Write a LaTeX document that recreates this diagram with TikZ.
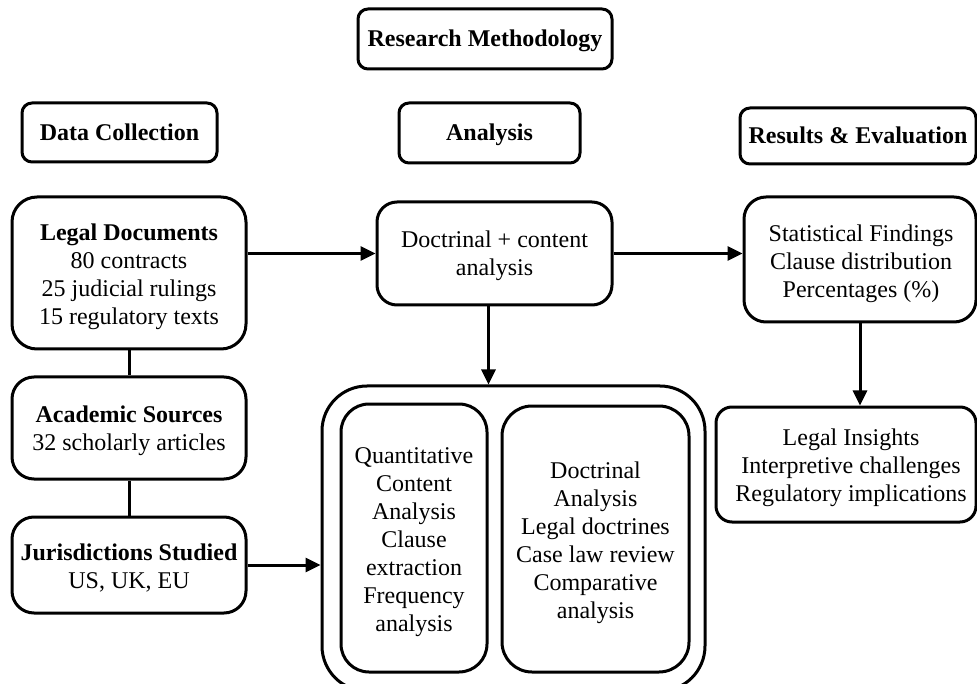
\documentclass[tikz,border=0pt]{standalone}
\usepackage{fontspec}
\setmainfont{Liberation Serif}
\usetikzlibrary{arrows.meta}
\newcommand\fsz{\fontsize{24}{28}\selectfont}
\tikzset{
  box/.style={draw, line width=3pt, inner sep=0pt},
  hdr/.style={box, align=center, font=\fsz\bfseries, text height=16pt, text depth=0pt},
  txt/.style={inner sep=0pt, align=center, font=\fsz},
  arr/.style={line width=3pt, -{Triangle[length=15pt,width=14pt]}},
  con/.style={line width=3pt}
}
\begin{document}
\begin{tikzpicture}[x=1pt,y=-1pt]
\path[use as bounding box] (0,0) rectangle (977,684);
\clip (0,0) rectangle (977,684);
% headers
\node[hdr, rounded corners=10pt, minimum width=254pt, minimum height=60pt] (rm) at (485,39) {Research Methodology};
\node[hdr, rounded corners=10pt, minimum width=195pt, minimum height=59pt] (dc) at (119.5,132.5) {Data Collection};
\node[hdr, rounded corners=10pt, minimum width=181pt, minimum height=60pt] (an) at (489.5,133) {Analysis};
\node[hdr, rounded corners=10pt, minimum width=236pt, minimum height=56pt] (re) at (858,136) {Results \& Evaluation};
% data collection column
\node[box, rounded corners=25pt, minimum width=234pt, minimum height=152pt] (ld) at (129,273) {};
\node[txt] (ldt) at ([yshift=-4pt]ld.center)
  {\textbf{Legal Documents}\\80 contracts\\25 judicial rulings\\15 regulatory texts};
\node[box, rounded corners=22pt, minimum width=234pt, minimum height=102pt] (as) at (129,428) {};
\node[txt] (ast) at ([yshift=-3pt]as.center)
  {\textbf{Academic Sources}\\32 scholarly articles};
\node[box, rounded corners=22pt, minimum width=234pt, minimum height=96pt] (js) at (129,565) {};
\node[txt] (jst) at ([yshift=-3pt]js.center)
  {\textbf{Jurisdictions Studied}\\US, UK, EU};
% analysis column
\node[box, rounded corners=20pt, minimum width=235pt, minimum height=103pt] (dca) at (494.5,253.5) {};
\node[txt] (dcat) at ([yshift=-2.5pt]dca.center) {Doctrinal + content\\analysis};
\node[box, rounded corners=45pt, minimum width=383pt, minimum height=305pt] (outer) at (513.5,538.5) {};
\node[box, rounded corners=28pt, minimum width=146pt, minimum height=268pt] (qca) at (414,538) {};
\node[txt] (qcat) at ([yshift=-4pt]qca.center)
  {Quantitative\\Content\\Analysis\\Clause\\extraction\\Frequency\\analysis};
\node[box, rounded corners=30pt, minimum width=187pt, minimum height=266pt] (dan) at (595.5,539) {};
\node[txt] (dant) at ([yshift=-3.5pt]dan.center)
  {Doctrinal\\Analysis\\Legal doctrines\\Case law review\\Comparative\\analysis};
% results column
\node[box, rounded corners=22pt, minimum width=232pt, minimum height=125pt] (sf) at (860,259.5) {};
\node[txt] (sft) at ([yshift=-4pt,xshift=1pt]sf.center)
  {Statistical Findings\\Clause distribution\\Percentages (\%)};
\node[box, rounded corners=16pt, minimum width=260pt, minimum height=115pt] (li) at (846,464.5) {};
\node[txt] (lit) at ([yshift=-3pt,xshift=5pt]li.center)
  {Legal Insights\\Interpretive challenges\\Regulatory implications};
% connectors
\draw[con] (ld) -- (as);
\draw[con] (as) -- (js);
\draw[arr] (ld.east |- dca.west) -- (dca.west);
\draw[arr] (dca.east) -- (sf.west |- dca.east);
\draw[arr] ([xshift=-6pt]dca.south) -- ([xshift=-6pt]dca.south |- outer.north);
\draw[arr] (sf.south) -- (sf.south |- li.north);
\draw[arr] (js.east) -- (js.east -| outer.west);
\end{tikzpicture}
\end{document}
